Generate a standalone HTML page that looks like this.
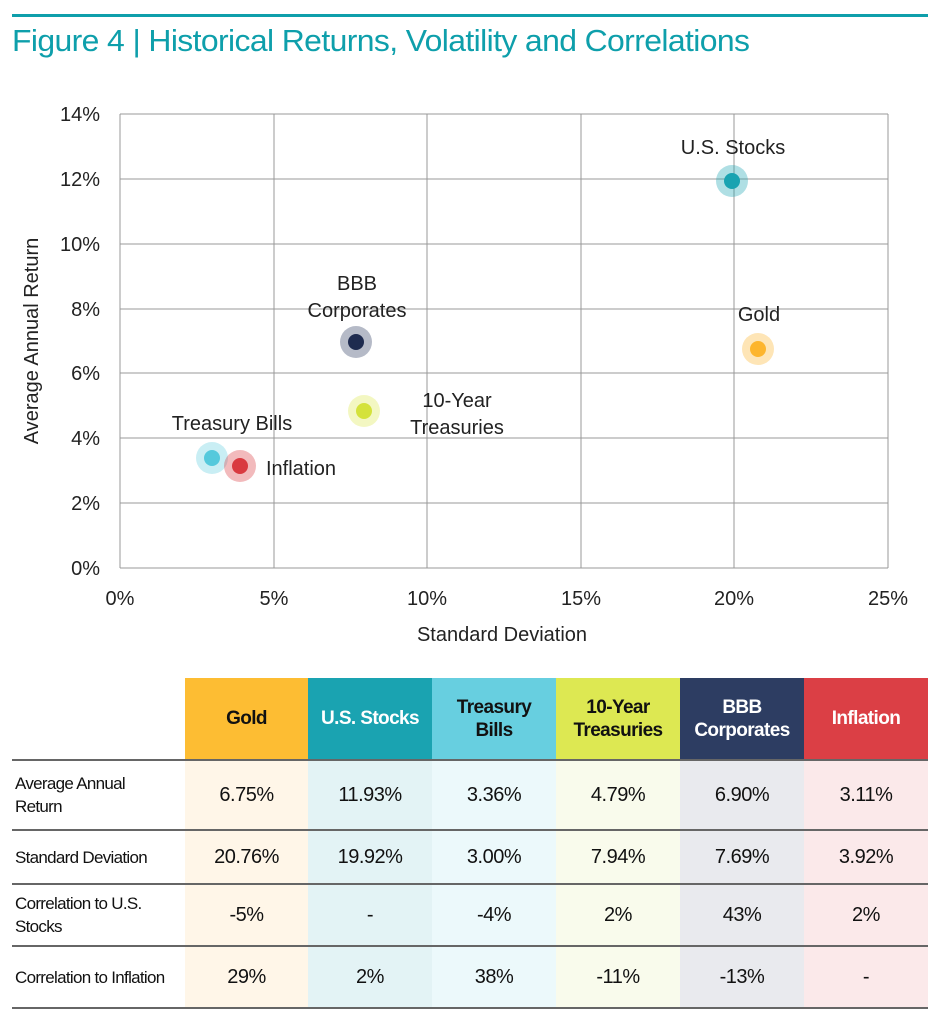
<!DOCTYPE html>
<html><head><meta charset="utf-8"><style>
body{margin:0;background:#fff;font-family:"Liberation Sans",sans-serif;}
.wrap{position:relative;width:945px;height:1024px;overflow:hidden}
table{position:absolute;left:12px;top:678px;border-collapse:collapse;font-size:20px;color:#111;letter-spacing:-0.5px}
td{text-align:center;padding:0}
th{font-weight:bold;font-size:19px;line-height:23px;padding:0;letter-spacing:-0.6px}
.lab{text-align:left;font-size:17px;line-height:23px;padding-left:3px;width:170px;letter-spacing:-0.7px}
tr.b td{border-top:2px solid #666}
</style></head><body><div class="wrap">
<div style="position:absolute;left:12px;top:14px;width:916px;height:3px;background:#0e9fab"></div>
<div style="position:absolute;left:12px;top:23px;font-size:31px;color:#0e9fab;letter-spacing:-0.6px;transform:scaleX(1.03);transform-origin:left">Figure 4 | Historical Returns, Volatility and Correlations</div>
<svg width="945" height="660" style="position:absolute;left:0;top:0" font-family="Liberation Sans, sans-serif">
<g stroke="#999" stroke-width="1">
<line x1="120" y1="114" x2="888" y2="114"/><line x1="120" y1="179" x2="888" y2="179"/><line x1="120" y1="244" x2="888" y2="244"/><line x1="120" y1="309" x2="888" y2="309"/><line x1="120" y1="373" x2="888" y2="373"/><line x1="120" y1="438" x2="888" y2="438"/><line x1="120" y1="503" x2="888" y2="503"/><line x1="120" y1="568" x2="888" y2="568"/>
<line x1="120" y1="114" x2="120" y2="568"/><line x1="274" y1="114" x2="274" y2="568"/><line x1="427" y1="114" x2="427" y2="568"/><line x1="581" y1="114" x2="581" y2="568"/><line x1="734" y1="114" x2="734" y2="568"/><line x1="888" y1="114" x2="888" y2="568"/>
</g>
<g font-size="20" fill="#222" text-anchor="end">
<text x="100" y="121">14%</text><text x="100" y="186">12%</text><text x="100" y="251">10%</text><text x="100" y="316">8%</text><text x="100" y="380">6%</text><text x="100" y="445">4%</text><text x="100" y="510">2%</text><text x="100" y="575">0%</text>
</g>
<g font-size="20" fill="#222" text-anchor="middle">
<text x="120" y="605">0%</text><text x="274" y="605">5%</text><text x="427" y="605">10%</text><text x="581" y="605">15%</text><text x="734" y="605">20%</text><text x="888" y="605">25%</text>
<text x="502" y="641">Standard Deviation</text>
<text transform="translate(38,341) rotate(-90)">Average Annual Return</text>
<text x="733" y="154">U.S. Stocks</text>
<text x="759" y="321">Gold</text>
<text x="357" y="290">BBB</text><text x="357" y="317">Corporates</text>
<text x="457" y="407">10-Year</text><text x="457" y="434">Treasuries</text>
<text x="232" y="430">Treasury Bills</text>
</g>
<text x="266" y="475" font-size="20" fill="#222">Inflation</text>
<circle cx="732" cy="181" r="16" fill="#1aa3b1" opacity="0.35"/><circle cx="732" cy="181" r="8" fill="#1aa3b1"/>
<circle cx="758" cy="349" r="16" fill="#fdb52d" opacity="0.35"/><circle cx="758" cy="349" r="8" fill="#fdb52d"/>
<circle cx="356" cy="342" r="16" fill="#2b3a5e" opacity="0.35"/><circle cx="356" cy="342" r="8" fill="#1e2b4f"/>
<circle cx="364" cy="411" r="16" fill="#dde84f" opacity="0.35"/><circle cx="364" cy="411" r="8" fill="#d4e23b"/>
<circle cx="212" cy="458" r="16" fill="#63cfe0" opacity="0.35"/><circle cx="212" cy="458" r="8" fill="#55c9dc"/>
<circle cx="240" cy="466" r="16" fill="#d93a40" opacity="0.35"/><circle cx="240" cy="466" r="8" fill="#d93a40"/>
</svg>
<table>
<tr style="height:82px"><th style="width:173px"></th>
<th style="width:123px;background:#fdbd33">Gold</th>
<th style="width:124px;background:#1aa3b1;color:#fff">U.S. Stocks</th>
<th style="width:124px;background:#67cfe0">Treasury<br>Bills</th>
<th style="width:124px;background:#dde852">10-Year<br>Treasuries</th>
<th style="width:124px;background:#2d3d62;color:#fff">BBB<br>Corporates</th>
<th style="width:124px;background:#db3f45;color:#fff">Inflation</th></tr>
<tr class="b" style="height:70px"><td class="lab">Average Annual<br>Return</td><td style="background:#fff6e8">6.75%</td><td style="background:#e3f3f5">11.93%</td><td style="background:#ecf9fb">3.36%</td><td style="background:#f9fbec">4.79%</td><td style="background:#e9eaee">6.90%</td><td style="background:#fbe9ea">3.11%</td></tr>
<tr class="b" style="height:54px"><td class="lab">Standard Deviation</td><td style="background:#fff6e8">20.76%</td><td style="background:#e3f3f5">19.92%</td><td style="background:#ecf9fb">3.00%</td><td style="background:#f9fbec">7.94%</td><td style="background:#e9eaee">7.69%</td><td style="background:#fbe9ea">3.92%</td></tr>
<tr class="b" style="height:62px"><td class="lab">Correlation to U.S.<br>Stocks</td><td style="background:#fff6e8">-5%</td><td style="background:#e3f3f5">-</td><td style="background:#ecf9fb">-4%</td><td style="background:#f9fbec">2%</td><td style="background:#e9eaee">43%</td><td style="background:#fbe9ea">2%</td></tr>
<tr class="b" style="height:62px;border-bottom:2px solid #666"><td class="lab">Correlation to Inflation</td><td style="background:#fff6e8">29%</td><td style="background:#e3f3f5">2%</td><td style="background:#ecf9fb">38%</td><td style="background:#f9fbec">-11%</td><td style="background:#e9eaee">-13%</td><td style="background:#fbe9ea">-</td></tr>
</table>
</div></body></html>
